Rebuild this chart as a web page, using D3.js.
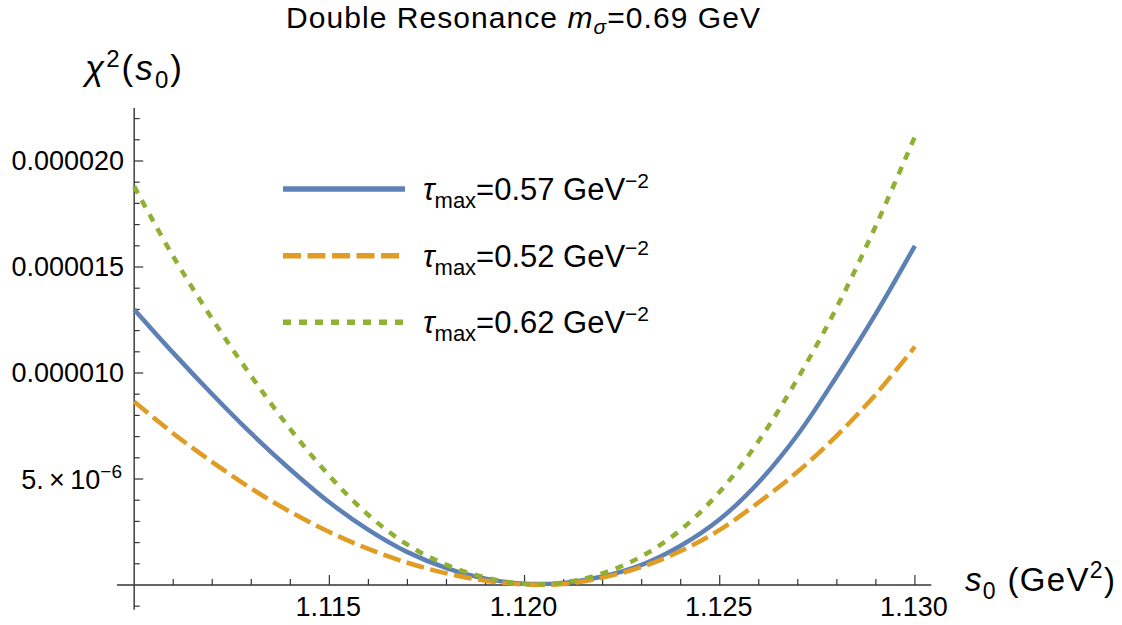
<!DOCTYPE html>
<html><head><meta charset="utf-8">
<script src="https://cdn.jsdelivr.net/npm/d3@7"></script>
<style>
html,body{margin:0;padding:0;background:#fff;}
svg{display:block;font-family:"Liberation Sans",Arial,sans-serif;}
</style></head>
<body><svg id="chart" width="1122" height="625"></svg>
<script>
// s0 values (GeV^2)
const s0 = [1.110,1.111,1.112,1.113,1.114,1.115,1.116,1.117,1.118,1.119,1.120,1.121,1.122,1.123,1.124,1.125,1.126,1.127,1.128,1.129,1.130];
// chi^2 values in units of 1e-6
const chiTau057 = [13.0,10.95,9.0,7.15,5.45,3.9,2.6,1.55,0.8,0.3,0.06,0.1,0.4,0.95,1.85,3.1,4.85,7.1,9.85,12.8,16.0];
const chiTau052 = [8.65,7.15,5.8,4.55,3.45,2.5,1.7,1.05,0.55,0.2,0.03,0.05,0.35,0.85,1.6,2.6,3.9,5.35,7.05,9.0,11.24];
const chiTau062 = [18.8,15.5,12.55,9.85,7.35,5.15,3.3,1.9,0.95,0.35,0.05,0.12,0.55,1.35,2.6,4.4,6.8,9.75,13.1,16.95,21.15];
const seriesNames = ["0.57","0.52","0.62"];
const seriesColors = ["#5E81B5","#E19C24","#8FB032"];
const seriesDash = [null,"18,6.5","8,8"];
const xMajorTicks = [1.115,1.120,1.125,1.130];
const xMajorLabels = ["1.115","1.120","1.125","1.130"];
const yMajorTicks = [5,10,15,20];
const yMajorLabels = ["0.000010","0.000015","0.000020"];

const svg = d3.select("#chart");
svg.append("rect").attr("width",1122).attr("height",625).attr("fill","#fff");

const x = d3.scaleLinear().domain([1.10956,1.13042]).range([117,931.3]);
const y = d3.scaleLinear().domain([-1.17,22.5]).range([609.8,108]);
const axisColor = "#333";
const x0 = x(1.11), y0 = y(0);

// axes lines
svg.append("line").attr("x1",x(1.10956)).attr("x2",x(1.13042)).attr("y1",y0).attr("y2",y0).attr("stroke",axisColor).attr("stroke-width",1.4);
svg.append("line").attr("x1",x0).attr("x2",x0).attr("y1",y(-1.17)).attr("y2",y(22.5)).attr("stroke",axisColor).attr("stroke-width",1.4);

// x ticks
const xMinor = d3.range(1.111,1.1305,0.001).map(v=>+v.toFixed(3));
xMinor.forEach(v=>{
  const major = xMajorTicks.some(m=>Math.abs(m-v)<1e-9);
  svg.append("line").attr("x1",x(v)).attr("x2",x(v)).attr("y1",y0).attr("y2",y0-(major?10:6))
    .attr("stroke",axisColor).attr("stroke-width",1.2);
});
xMajorTicks.forEach((v,i)=>{
  svg.append("text").attr("x",x(v)-1).attr("y",616).attr("text-anchor","middle")
    .attr("font-size",27).attr("fill","#000").text(xMajorLabels[i]);
});
// y ticks
const yMinor = d3.range(-1,23,1);
yMinor.forEach(v=>{
  if(v===0) return;
  const major = yMajorTicks.includes(v);
  svg.append("line").attr("x1",x0).attr("x2",x0+(major?9:5.5)).attr("y1",y(v)).attr("y2",y(v))
    .attr("stroke",axisColor).attr("stroke-width",1.2);
});
[10,15,20].forEach((v,i)=>{
  svg.append("text").attr("x",124).attr("y",y(v)+9.5).attr("text-anchor","end")
    .attr("font-size",27).attr("fill","#000").text(yMajorLabels[i]);
});
{
  const t = svg.append("text").attr("x",122).attr("y",y(5)+10).attr("text-anchor","end")
    .attr("font-size",27).attr("fill","#000");
  t.append("tspan").text("5.\u2009\u00d7\u200910");
  t.append("tspan").attr("dy",-11).attr("font-size",19).text("\u22126");
}

// curves
const line = d3.line().x(d=>x(d[0])).y(d=>y(d[1])).curve(d3.curveCatmullRom.alpha(0.5));
const allSeries = [chiTau057,chiTau052,chiTau062];
allSeries.forEach((vals,i)=>{
  const p = svg.append("path").datum(s0.map((s,k)=>[s,vals[k]])).attr("d",line)
    .attr("fill","none").attr("stroke",seriesColors[i]).attr("stroke-width",4.5);
  if(seriesDash[i]) p.attr("stroke-dasharray",seriesDash[i]);
});

// legend
const legY = [189,255.7,322.3];
seriesNames.forEach((n,i)=>{
  const l = svg.append("line").attr("x1",283).attr("x2",405).attr("y1",legY[i]).attr("y2",legY[i])
    .attr("stroke",seriesColors[i]).attr("stroke-width",5.5);
  if(seriesDash[i]) l.attr("stroke-dasharray",seriesDash[i]);
  const t = svg.append("text").attr("x",423).attr("y",legY[i]+11).attr("font-size",31).attr("fill","#000")
    .attr("textLength",226).attr("lengthAdjust","spacing");
  t.append("tspan").attr("font-style","italic").text("\u03c4");
  t.append("tspan").attr("dy",8).attr("font-size",22).text("max");
  t.append("tspan").attr("dy",-8).text("="+n+" GeV");
  t.append("tspan").attr("dy",-12).attr("font-size",21).text("\u22122");
});

// title
{
  const t = svg.append("text").attr("x",523).attr("y",28).attr("text-anchor","middle").attr("font-size",30).attr("fill","#000")
    .attr("textLength",474).attr("lengthAdjust","spacing");
  t.append("tspan").text("Double Resonance ");
  t.append("tspan").attr("font-style","italic").text("m");
  t.append("tspan").attr("font-style","italic").attr("dy",6).attr("font-size",21).text("\u03c3");
  t.append("tspan").attr("dy",-6).text("=0.69 GeV");
}
// y label
{
  const t = svg.append("text").attr("x",85).attr("y",80).attr("font-size",35).attr("fill","#000")
    .attr("textLength",97).attr("lengthAdjust","spacing");
  t.append("tspan").attr("font-style","italic").text("\u03c7");
  t.append("tspan").attr("dy",-13).attr("font-size",24).text("2");
  t.append("tspan").attr("dy",13).text("(");
  t.append("tspan").attr("font-style","italic").text("s");
  t.append("tspan").attr("dy",8).attr("font-size",24).text("0");
  t.append("tspan").attr("dy",-8).text(")");
}
// x label
{
  const t = svg.append("text").attr("x",965).attr("y",591).attr("font-size",33).attr("fill","#000")
    .attr("textLength",150).attr("lengthAdjust","spacing");
  t.append("tspan").attr("font-style","italic").text("s");
  t.append("tspan").attr("dy",8).attr("font-size",23).text("0");
  t.append("tspan").attr("dy",-8).text(" (GeV");
  t.append("tspan").attr("dy",-13).attr("font-size",23).text("2");
  t.append("tspan").attr("dy",13).text(")");
}
</script></body></html>
